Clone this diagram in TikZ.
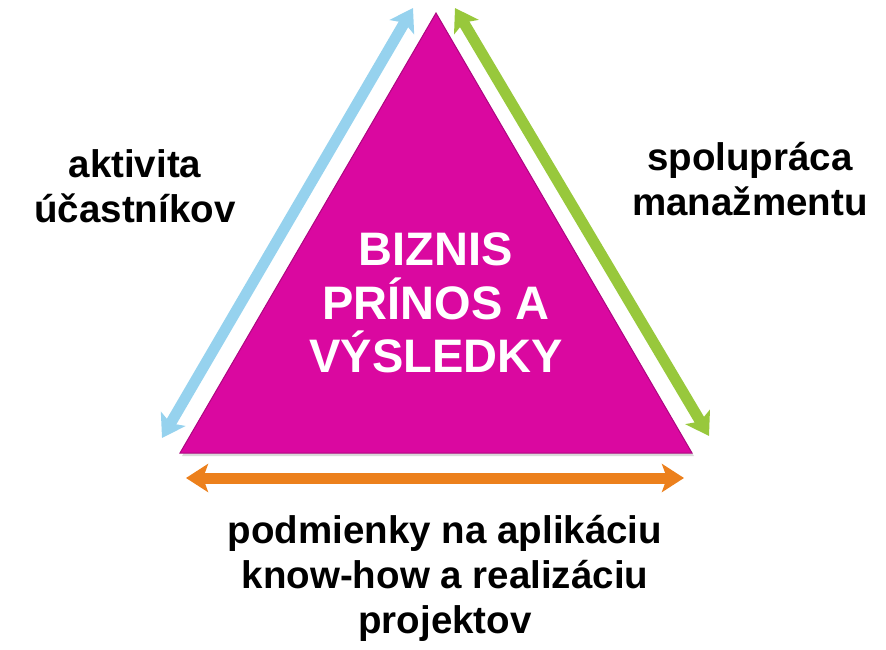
\documentclass[tikz,border=0pt]{standalone}
\usepackage{fontspec}
\setmainfont{Liberation Sans}
\usetikzlibrary{arrows.meta,shadows}
\definecolor{magentaBox}{RGB}{218,8,160}
\definecolor{skyArrow}{RGB}{150,210,238}
\definecolor{limeArrow}{RGB}{152,200,60}
\definecolor{orangeArrow}{RGB}{236,128,28}
\tikzset{
  fat/.style={line width=11pt,{Stealth[length=22pt,width=28pt,inset=5pt]}-{Stealth[length=22pt,width=28pt,inset=5pt]}},
  side/.style={font=\bfseries\fontsize{38.5}{45}\selectfont,align=center,text=black},
}
\begin{document}
\begin{tikzpicture}[x=1pt,y=-1pt]
    \useasboundingbox (0,0) rectangle (886,650);
    % corners of the triangle
    \coordinate (top) at (436,13);
    \coordinate (bl) at (180,453);
    \coordinate (br) at (692,453);
    \fill[magentaBox,draw=magentaBox!80!black,line width=1pt,drop shadow={opacity=0.3,shadow xshift=2pt,shadow yshift=-3pt}] (top) -- (bl) -- (br) -- cycle;
    % arrow ends
    \coordinate (blueA) at (162,438); \coordinate (blueB) at (413,8);
    \coordinate (greenA) at (455,8); \coordinate (greenB) at (709,436);
    \coordinate (orangeA) at (186,478); \coordinate (orangeB) at (684,478);
    \foreach \a/\b/\c in {blueA/blueB/skyArrow,greenA/greenB/limeArrow,orangeA/orangeB/orangeArrow}
        \draw[fat,draw=\c,fill=\c] (\a) -- (\b);
    \node[font=\bfseries\fontsize{47}{53.5}\selectfont,align=center,text=white] (gain) at (436,303) {BIZNIS\\PRÍNOS A\\VÝSLEDKY};
    \node[side] (activity) at (135,186) {aktivita\\účastníkov};
    \node[side] (mgmt) at (750,179) {spolupráca\\manažmentu};
    \node[side] (terms) at (445,578) {podmienky na aplikáciu\\know-how a realizáciu\\projektov};
\end{tikzpicture}
\end{document}
